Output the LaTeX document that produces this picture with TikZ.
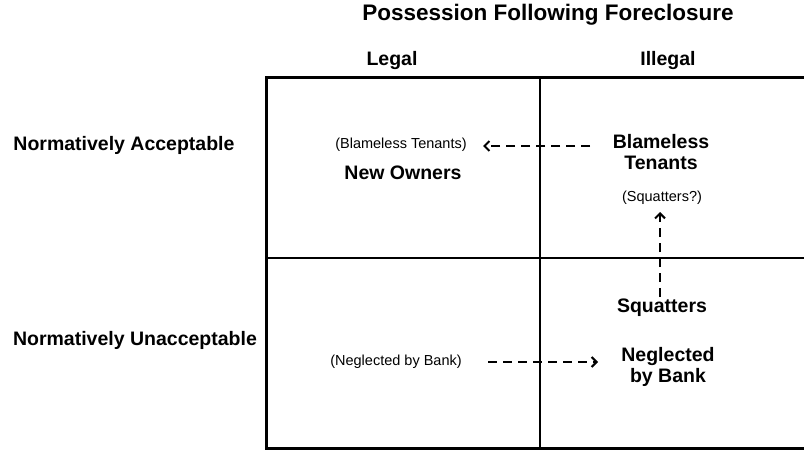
\documentclass[tikz,border=0pt]{standalone}
\usepackage{fontspec}
\setmainfont{Liberation Sans}
\usetikzlibrary{arrows.meta}
\begin{document}
\begin{tikzpicture}[x=1pt,y=-1pt,
  title/.style={font=\bfseries\fontsize{22.5}{26}\selectfont},
  head/.style={font=\bfseries\fontsize{19.5}{23}\selectfont},
  big/.style={font=\bfseries\fontsize{19.5}{20.5}\selectfont,align=center},
  small/.style={font=\fontsize{14.5}{16}\selectfont},
  dasharrow/.style={line width=2.4pt,dash pattern=on 9pt off 6pt,-{Straight Barb[length=5pt,width=10pt,line width=2pt]}}
]
\useasboundingbox (0,0) rectangle (804,450);
% grid
\draw[line width=3pt] (812,77) -- (266,77) -- (266,448) -- (812,448);
\draw[line width=1.6pt] (540,77) -- (540,448);
\draw[line width=1.6pt] (266,258) -- (812,258);
% headings
\node[title] (title) at (548,15) {Possession Following Foreclosure};
\node[head] (legal) at (392,60) {Legal};
\node[head] (illegal) at (668,60) {Illegal};
\node[head] (acc) at (124,145) {Normatively Acceptable};
\node[head] (unacc) at (135,340) {Normatively Unacceptable};
% cells
\node[small] (bts) at (401,145) {(Blameless Tenants)};
\node[big] (no) at (403,173) {New Owners};
\node[big] (bt) at (661,152) {Blameless\\Tenants};
\node[small] (sq) at (662,198) {(Squatters?)};
\node[big] (sqb) at (662,308) {Squatters};
\node[small] (nbs) at (396,362) {(Neglected by Bank)};
\node[big] (nb) at (668,367) {Neglected\\by Bank};
% arrow ends
\coordinate (a1s) at (590,146);
\coordinate (a1e) at (483,146);
\coordinate (a2s) at (660,297);
\coordinate (a2e) at (660,212);
\coordinate (a3s) at (488,362);
\coordinate (a3e) at (598,362);
% arrows
\draw[dasharrow] (a1s) -- (a1e);
\draw[dasharrow] (a2s) -- (a2e);
\draw[dasharrow] (a3s) -- (a3e);
\end{tikzpicture}
\end{document}
